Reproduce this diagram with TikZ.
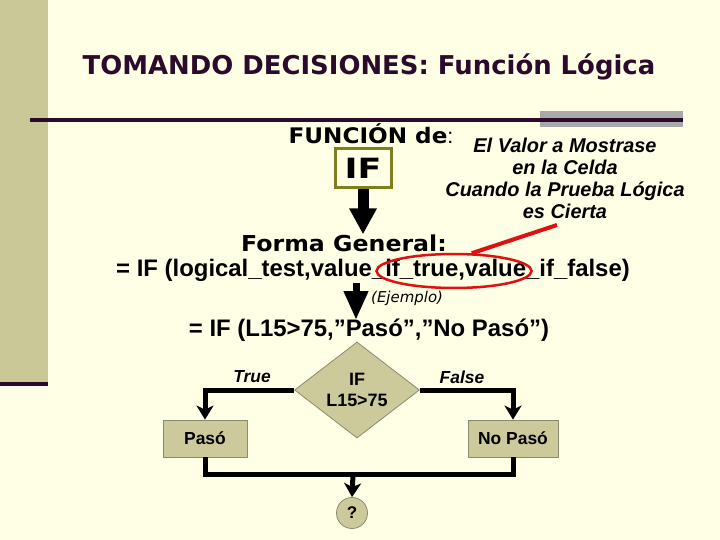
\documentclass[tikz,border=0pt]{standalone}
\usepackage{fontspec}
\setmainfont{Liberation Sans}
\newfontfamily\titlefont{DejaVu Sans}
\newfontfamily\heavyfont[FakeStretch=1.08]{DejaVu Sans Bold}
\newfontfamily\wideheavyfont[FakeStretch=1.25]{DejaVu Sans Bold}
\usetikzlibrary{arrows.meta,shapes.geometric}
\definecolor{bg}{HTML}{FFFFE6}
\definecolor{strip}{HTML}{CBC897}
\definecolor{plum}{HTML}{2B0A2B}
\definecolor{khaki}{HTML}{CCC99A}
\definecolor{olivebox}{HTML}{7F7F20}
\definecolor{bargray}{HTML}{A9A9A9}
\definecolor{redline}{HTML}{E01010}
\definecolor{edgegray}{HTML}{8A8A70}
\begin{document}
\begin{tikzpicture}[x=1bp,y=-1bp,
  flowline/.style={line width=5bp,-{Stealth[width=17bp,length=14bp,inset=4bp]}},
  plainline/.style={line width=5bp},
  bigarrow/.style={line width=#1,-{Triangle[width=26bp,length=26bp]}},
  fbox/.style={draw=edgegray,fill=khaki,line width=0.8bp,minimum height=37bp,inner sep=0pt,
    font=\bfseries\fontsize{17.5}{17.5}\selectfont},
  heavy/.style={inner sep=0pt,font=\heavyfont\fontsize{#1}{#1}\selectfont},
  boldtext/.style={inner sep=0pt,font=\bfseries\fontsize{#1}{#1}\selectfont},
  italbold/.style={inner sep=0pt,font=\bfseries\itshape\fontsize{#1}{#1}\selectfont},
]
\useasboundingbox (0,0) rectangle (720,540);
\fill[bg] (0,0) rectangle (720,540);
% left strip
\fill[strip] (0,0) rectangle (48,382);
\fill[plum] (0,382) rectangle (48,386);
% title
\node[inner sep=0pt,text=plum,font=\titlefont\bfseries\fontsize{26}{26}\selectfont] (title) at (369,67) {TOMANDO DECISIONES: Función Lógica};
% rule with gray bar
\fill[bargray] (540,111) rectangle (683,127);
\coordinate (ruleL) at (30,120);
\coordinate (ruleR) at (683,120);
\draw[plum,line width=3.5bp] (ruleL) -- (ruleR);

% FUNCION de
\node[heavy=21.5] (func) at (371,134) {FUNCIÓN de{\fontspec{Liberation Sans}:}};
\node[draw=olivebox,line width=3bp,minimum width=56bp,minimum height=39bp,inner sep=0pt,font=\wideheavyfont\fontsize{28}{28}\selectfont] (ifbox) at (363,168.5) {IF};
\node[italbold=20,align=center] (desc) at (565,178.5) {El Valor a Mostrase\\[2bp]en la Celda\\[2bp]Cuando la Prueba Lógica\\[2bp]es Cierta};

\node[heavy=22] (forma) at (344,243) {Forma General:};
\node[boldtext=24] (gen) at (373,270) {= IF (logical\_test,value\_if\_true,value\_if\_false)};
\draw[bigarrow=11bp] (ifbox.south) -- (ifbox.south |- forma.north);

% red ellipse and pointer
\node[ellipse,draw=redline,line width=2.5bp,minimum width=155bp,minimum height=34bp] (ell) at (454,271) {};
\coordinate (redstart) at (557,225);
\draw[redline,line width=4bp] (redstart) -- (ell.45);

% example arrow
\coordinate (a2s) at (356,283);
\coordinate (a2e) at (356,320);
\draw[line width=7bp,-{Triangle[width=23bp,length=29bp]}] (a2s) -- (a2e);
\node[inner sep=0pt,font=\titlefont\itshape\fontsize{15}{15}\selectfont,anchor=west] (ejemplo) at (371,298) {(Ejemplo)};

\node[boldtext=24] (ex) at (369,330) {= IF (L15>75,”Pasó”,”No Pasó”)};

% flowchart
\node[diamond,draw=edgegray,fill=khaki,line width=0.8bp,minimum width=125bp,minimum height=96bp,inner sep=0pt,align=center,font=\bfseries\fontsize{18}{21}\selectfont] (dia) at (357,390) {IF\\L15>75};
\node[fbox,minimum width=84bp] (paso) at (205,438.5) {Pasó};
\node[fbox,minimum width=90bp] (nopaso) at (513,438.5) {No Pasó};
\node[circle,draw=edgegray,fill=khaki,line width=0.8bp,minimum size=31bp,inner sep=0pt,font=\bfseries\fontsize{17}{17}\selectfont] (q) at (352,513) {?};
\node[italbold=17.5] (true) at (252,377) {True};
\node[italbold=17.5] (false) at (462,377) {False};

\coordinate (join) at (353,474.5);
\draw[flowline] (dia.west) -| (paso.north);
\draw[flowline] (dia.east) -| (nopaso.north);
\draw[plainline] (paso.south) -- (paso.south |- join) -| (nopaso.south);
\draw[flowline] (join) -- (q.north);
\end{tikzpicture}
\end{document}
